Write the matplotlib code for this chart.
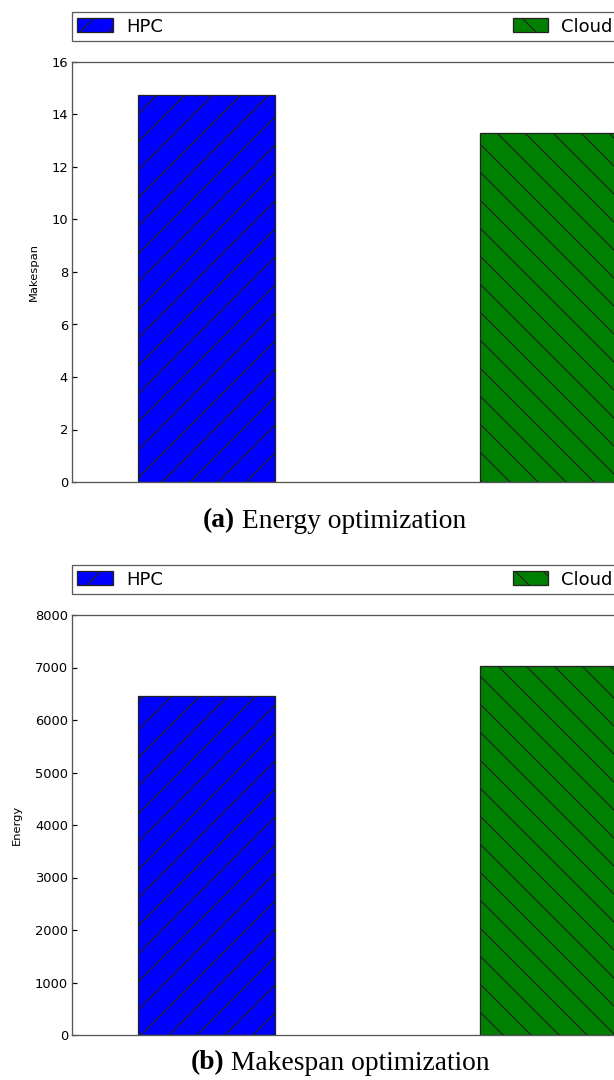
import matplotlib
matplotlib.use('Agg')
import matplotlib.pyplot as plt

systems = ['HPC', 'Cloud']
colors = ['blue', 'green']
hatches = ['//', '\\\\']
makespan = [14.75, 13.30]      # energy optimization
energy = [6460, 7030]          # makespan optimization

# hatch spacing follows the dpi, so render at a high dpi and size fonts in px
DPI = 168
W, H = 614.0, 1080.0


def pt(px):
    return px * 72.0 / DPI


plt.rcParams['hatch.color'] = '#0d0d2a'
plt.rcParams['hatch.linewidth'] = pt(1.2)

fig = plt.figure(figsize=(W / DPI, H / DPI), dpi=DPI)


def panel(top_px, vals, ylim, yticks, ylabel, tag, caption, cap_y, cap_x):
    ax = fig.add_axes([72 / W, 1 - (top_px + 420) / H, 548 / W, 420 / H])
    for i, s in enumerate(systems):
        ax.bar(i, vals[i], 0.4, color=colors[i], edgecolor='#222222',
               hatch=hatches[i], label=s, linewidth=pt(1.3))
    ax.set_xlim(-0.393, 1.21)
    ax.set_ylim(*ylim)
    ax.set_yticks(yticks)
    ax.set_xticks([])
    ax.tick_params(axis='y', direction='in', right=True, length=pt(5),
                   width=pt(1.2), labelsize=pt(13), pad=pt(4))
    for sp in ax.spines.values():
        sp.set_color('#555555')
        sp.set_linewidth(pt(1.3))
    ax.set_ylabel(ylabel, fontsize=pt(11.5), labelpad=pt(13))
    leg = ax.legend(loc='lower left', ncol=2, mode='expand',
                    bbox_to_anchor=(0, 1 + 21 / 420, 546 / 548, 31 / 420),
                    borderaxespad=0, fontsize=pt(18), fancybox=False,
                    handlelength=1.95, handleheight=0.8, borderpad=0.3,
                    handletextpad=0.75)
    leg.get_frame().set_edgecolor('#333333')
    leg.get_frame().set_linewidth(pt(1.3))
    fig.text(cap_x / W, 1 - cap_y / H, tag, fontweight='bold',
             family='Liberation Serif', fontsize=pt(27.5), ha='right', va='center')
    fig.text(cap_x / W, 1 - cap_y / H, caption, family='Liberation Serif',
             fontsize=pt(27.5), ha='left', va='center')
    return ax


panel(62, makespan, (0, 16), range(0, 17, 2), 'Makespan',
      '(a)', ' Energy optimization', 521, 235)
panel(615, energy, (0, 8000), range(0, 8001, 1000), 'Energy',
      '(b)', ' Makespan optimization', 1063, 224)

fig.savefig('out.png', dpi=DPI)
